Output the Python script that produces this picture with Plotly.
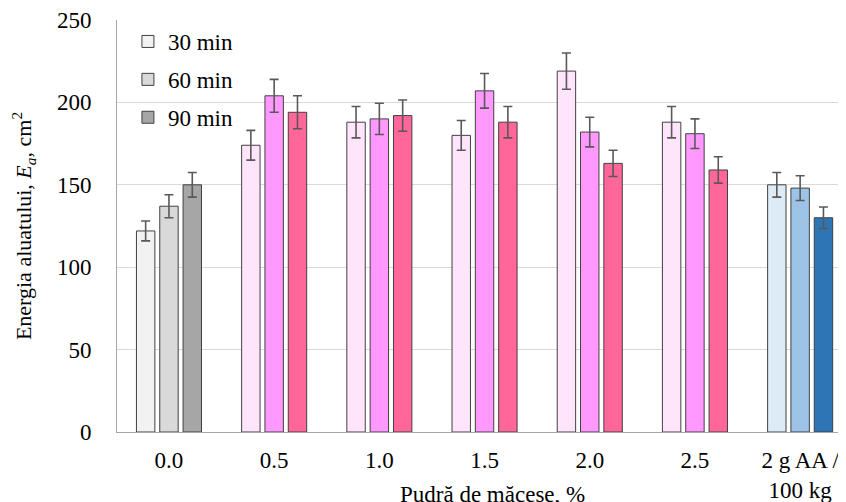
import plotly.graph_objects as go

categories = ["0.0", "0.5", "1.0", "1.5", "2.0", "2.5", "2 g AA /<br>100 kg"]
series_names = ["30 min", "60 min", "90 min"]
values_30 = [122, 174, 188, 180, 219, 188, 150]
values_60 = [137, 204, 190, 207, 182, 181, 148]
values_90 = [150, 194, 192, 188, 163, 159, 130]
errors_30 = [6, 9, 9.5, 9, 11, 9.5, 7.5]
errors_60 = [7, 10, 9.5, 10.5, 9, 9, 7.5]
errors_90 = [7.5, 10, 9.5, 9.5, 8, 8, 6.5]

colors_30 = ["#F2F2F2"] + ["#FFE5FB"] * 5 + ["#DDEBF7"]
colors_60 = ["#D9D9D9"] + ["#FF99FF"] * 5 + ["#9DC3E6"]
colors_90 = ["#A6A6A6"] + ["#FF6699"] * 5 + ["#2E75B6"]

FONT = "Liberation Serif"

fig = go.Figure()
for name, vals, errs, cols in [
    (series_names[0], values_30, errors_30, colors_30),
    (series_names[1], values_60, errors_60, colors_60),
    (series_names[2], values_90, errors_90, colors_90),
]:
    fig.add_trace(go.Bar(
        name=name,
        x=list(range(len(categories))),
        y=vals,
        legendgroup=name,
        marker=dict(color=cols, line=dict(color="#404040", width=1)),
        error_y=dict(type="data", array=errs, visible=True,
                     color="#595959", thickness=1.6, width=4.5),
    ))

# page body has an 8px margin, so the figure is 8px smaller and shifted
L, T, PW, PH = 109, 12, 729, 412

fig.update_layout(
    width=838, height=494,
    margin=dict(l=L, r=0, t=T, b=494 - T - PH),
    plot_bgcolor="white", paper_bgcolor="white",
    barmode="group", bargap=0.335, bargroupgap=0.21,
    font=dict(family=FONT, size=23, color="black"),
    showlegend=True,
    legend=dict(x=0.015, y=1.0, xanchor="left", yanchor="top",
                font=dict(family=FONT, size=23), bgcolor="rgba(0,0,0,0)",
                tracegroupgap=5, traceorder="grouped"),
    xaxis=dict(
        range=[-0.494, 6.436],
        tickmode="array", tickvals=list(range(len(categories))), ticktext=categories,
        showgrid=False, showline=True, linecolor="#A6A6A6", linewidth=1,
        ticks="", ticklabelstandoff=7, zeroline=False,
        tickfont=dict(family=FONT, size=23),
    ),
    yaxis=dict(
        range=[0, 250], tickvals=[0, 50, 100, 150, 200, 250],
        showgrid=True, gridcolor="#D9D9D9", gridwidth=1,
        showline=True, linecolor="#A6A6A6", linewidth=1,
        ticks="", ticklabelstandoff=20, zeroline=False,
        tickfont=dict(family=FONT, size=23),
        title=dict(text="Energia aluatului, <i>E</i><sub><i>a</i></sub>, cm<sup>2</sup>",
                   font=dict(family=FONT, size=22), standoff=22),
    ),
)

fig.add_annotation(
    text="Pudră de măcese, %", xref="paper", yref="paper",
    x=(484 - L) / PW, y=-(472 - (T + PH)) / PH, xanchor="center", yanchor="top",
    showarrow=False, font=dict(family=FONT, size=23, color="black"),
)

fig.write_html("out.html")
